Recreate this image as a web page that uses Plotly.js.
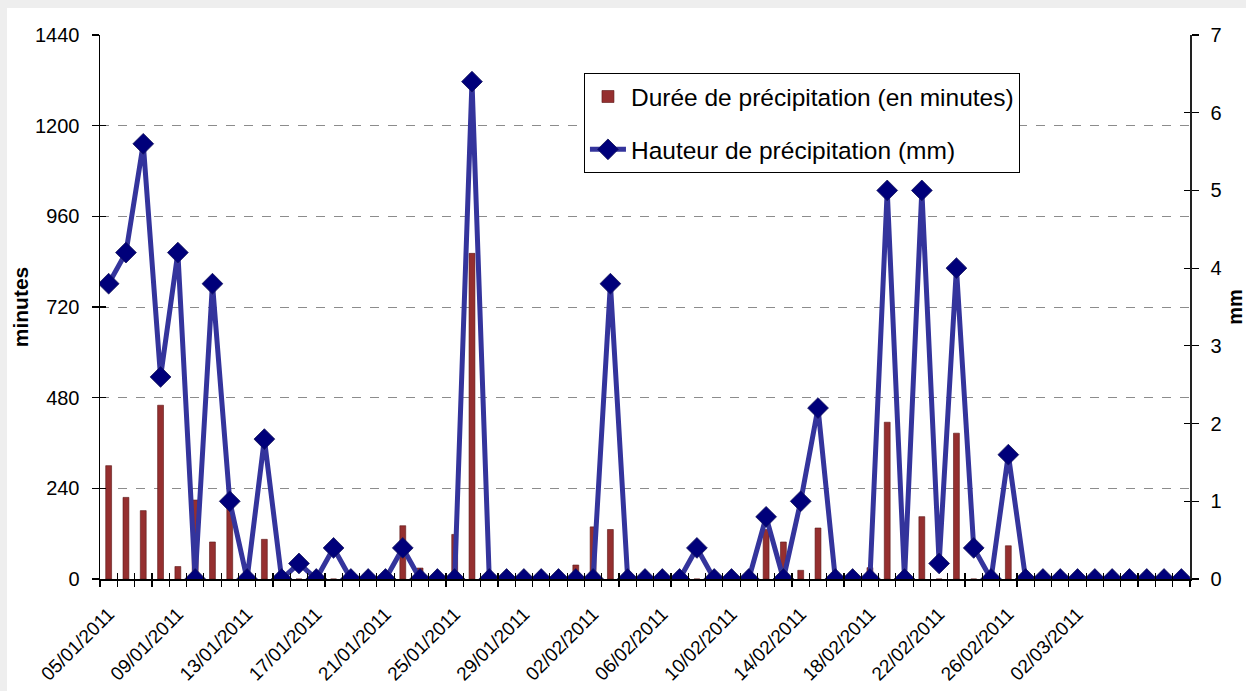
<!DOCTYPE html>
<html><head><meta charset="utf-8">
<script src="https://cdn.plot.ly/plotly-3.0.1.min.js"></script>
<style>
html,body{margin:0;padding:0;background:#eeeeee;width:1246px;height:691px;overflow:hidden}
#chart{position:absolute;left:7px;top:8px;width:1239px;height:683px;background:#fff}
</style></head><body><div id="chart"></div>
<script>
const dates = [
 "05/01/2011","06/01/2011","07/01/2011","08/01/2011","09/01/2011","10/01/2011","11/01/2011","12/01/2011",
 "13/01/2011","14/01/2011","15/01/2011","16/01/2011","17/01/2011","18/01/2011","19/01/2011","20/01/2011",
 "21/01/2011","22/01/2011","23/01/2011","24/01/2011","25/01/2011","26/01/2011","27/01/2011","28/01/2011",
 "29/01/2011","30/01/2011","31/01/2011","01/02/2011","02/02/2011","03/02/2011","04/02/2011","05/02/2011",
 "06/02/2011","07/02/2011","08/02/2011","09/02/2011","10/02/2011","11/02/2011","12/02/2011","13/02/2011",
 "14/02/2011","15/02/2011","16/02/2011","17/02/2011","18/02/2011","19/02/2011","20/02/2011","21/02/2011",
 "22/02/2011","23/02/2011","24/02/2011","25/02/2011","26/02/2011","27/02/2011","28/02/2011","01/03/2011",
 "02/03/2011","03/03/2011","04/03/2011","05/03/2011","06/03/2011","07/03/2011","08/03/2011"];

const dureeMinutes = [
 300,216,181,460,33,209,98,200,
 0,105,0,0,0,0,0,0,
 0,141,29,0,118,862,0,0,
 0,0,0,37,138,131,0,0,
 0,0,0,0,0,0,131,98,
 23,135,0,0,30,415,0,165,
 0,386,0,0,88,0,0,0,
 0,0,0,0,0,0,0];

const hauteurMm = [
 3.8,4.2,5.6,2.6,4.2,0,3.8,1.0,
 0,1.8,0,0.2,0,0.4,0,0,
 0,0.4,0,0,0,6.4,0,0,
 0,0,0,0,0,3.8,0,0,
 0,0,0.4,0,0,0,0.8,0,
 1.0,2.2,0,0,0,5.0,0,5.0,
 0.2,4.0,0.4,0,1.6,0,0,0,
 0,0,0,0,0,0,0];

const labelDates = ["05/01/2011","09/01/2011","13/01/2011","17/01/2011","21/01/2011","25/01/2011",
 "29/01/2011","02/02/2011","06/02/2011","10/02/2011","14/02/2011","18/02/2011","22/02/2011",
 "26/02/2011","02/03/2011"];
const minuteTicks = [0,240,480,720,960,1200,1440];
const mmTicks = [0,1,2,3,4,5,6,7];

const FONT = "Liberation Sans, Arial, Helvetica, sans-serif";
const tickText = dates.map(d => labelDates.includes(d) ? d : "");

const traces = [
 {type:"bar", x:dates, y:dureeMinutes, name:"Durée de précipitation (en minutes)",
  xaxis:"x", yaxis:"y", width:0.34, legendgroup:"a",
  marker:{color:"#952f2f", line:{color:"#5a1616", width:0.6}}},
 {type:"scatter", mode:"lines+markers", x:dates, y:hauteurMm, name:"Hauteur de précipitation (mm)",
  xaxis:"x", yaxis:"y2", legendgroup:"b",
  line:{color:"#34349c", width:5},
  marker:{symbol:"diamond", size:16, color:"#00007a", line:{color:"#14145a", width:0.8}}},
 // empty helper traces so the tick-only overlay axes are drawn
 {type:"scatter", x:[], y:[], xaxis:"x2", yaxis:"y3", showlegend:false, hoverinfo:"skip"},
 {type:"scatter", x:[], y:[], xaxis:"x2", yaxis:"y4", showlegend:false, hoverinfo:"skip"}
];

const layout = {
 width:1239, height:683,
 paper_bgcolor:"#ffffff", plot_bgcolor:"#ffffff",
 margin:{l:93, r:56, t:27, b:112},
 font:{family:FONT, color:"#000"},
 bargap:0,
 showlegend:true,
 legend:{x:0.444, y:0.93, xanchor:"left", yanchor:"top", bgcolor:"#fff",
   bordercolor:"#000", borderwidth:1, font:{size:24.5, family:FONT},
   traceorder:"grouped", tracegroupgap:18, itemwidth:36},
 xaxis:{type:"category", range:[-0.5,62.5], tickmode:"array", tickvals:dates, ticktext:tickText,
   tickangle:-45, tickson:"boundaries", ticks:"outside", ticklen:6, tickcolor:"#000", tickwidth:1.2,
   showline:true, linecolor:"#000", linewidth:1.5, showgrid:false, zeroline:false,
   tickfont:{size:19, family:FONT}, ticklabelstandoff:15, automargin:false},
 xaxis2:{overlaying:"x", anchor:"y", type:"linear", range:[-0.5,62.5], tickmode:"linear", tick0:-0.5, dtick:1,
   ticks:"inside", ticklen:6, tickcolor:"#000", tickwidth:1.2, showticklabels:false, showgrid:false,
   zeroline:false, showline:false},
 yaxis:{range:[0,1440], tickmode:"array", tickvals:minuteTicks, ticks:"outside", ticklen:7, tickcolor:"#000",
   tickwidth:1.2, showline:true, linecolor:"#000", linewidth:1.5, showgrid:true, gridcolor:"#8c8c8c",
   griddash:"dash", gridwidth:1, zeroline:false, tickfont:{size:20, family:FONT}, ticklabelstandoff:8,
   title:{text:"<b>minutes</b>", font:{size:21, family:FONT}, standoff:0}, automargin:false},
 yaxis2:{overlaying:"y", side:"right", anchor:"x", range:[0,7], tickmode:"array", tickvals:mmTicks,
   ticks:"outside", ticklen:7, tickcolor:"#000", tickwidth:1.2, showline:true, linecolor:"#222", linewidth:1.5,
   showgrid:false, zeroline:false, tickfont:{size:20, family:FONT}, ticklabelstandoff:8,
   title:{text:"<b>mm</b>", font:{size:20, family:FONT}, standoff:8}, automargin:false},
 yaxis3:{overlaying:"y", side:"left", anchor:"x2", range:[0,1440], tickmode:"array", tickvals:minuteTicks,
   ticks:"inside", ticklen:6, tickcolor:"#000", tickwidth:1.2, showticklabels:false, showgrid:false,
   zeroline:false, showline:false},
 yaxis4:{overlaying:"y", side:"right", anchor:"x2", range:[0,7], tickmode:"array", tickvals:mmTicks,
   ticks:"inside", ticklen:6, tickcolor:"#000", tickwidth:1.2, showticklabels:false, showgrid:false,
   zeroline:false, showline:false}
};

Plotly.newPlot("chart", traces, layout, {displayModeBar:false, staticPlot:true});
</script></body></html>
